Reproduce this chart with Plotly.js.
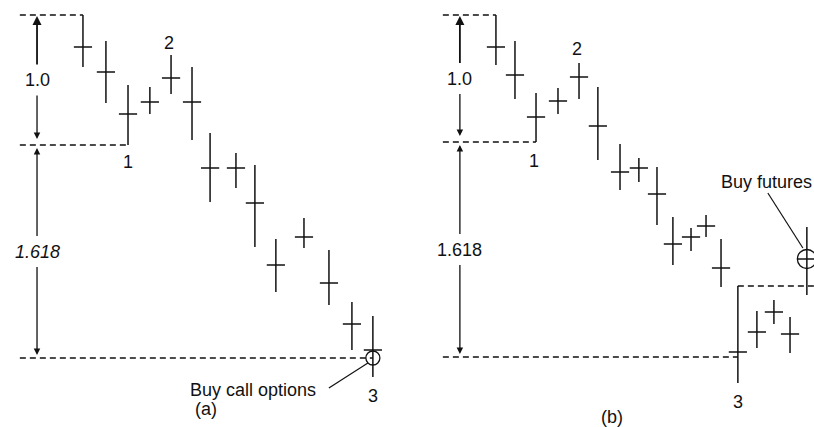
<!DOCTYPE html>
<html>
<head>
<meta charset="utf-8">
<script src="https://cdn.plot.ly/plotly-3.0.1.min.js"></script>
<style>
  html, body { margin: 0; padding: 0; background: #fff; }
  #chart { width: 814px; height: 427px; }
</style>
</head>
<body>
<div id="chart"></div>
<script>
// panel (a): bar positions (session units) and high / low / close
let a_x     = [1.00, 2.03, 3.02, 4.00, 4.95, 5.89, 6.70, 7.86, 8.71, 9.65, 10.91, 12.03, 13.06, 14.00];
let a_high  = [100.0, 97.4, 93.0, 92.8, 96.0, 94.8, 88.2, 86.2, 85.0, 77.6, 79.7, 76.5, 71.3, 69.9];
let a_low   = [94.8, 91.2, 87.0, 90.1, 92.1, 87.5, 81.3, 82.7, 76.8, 72.3, 76.7, 71.0, 66.5, 63.8];
let a_close = [96.8, 94.3, 90.1, 91.3, 93.7, 91.3, 84.7, 84.7, 81.2, 75.0, 77.8, 73.2, 69.1, 66.5];

// panel (b)
let b_x     = [1.00, 2.04, 3.19, 4.39, 5.54, 6.57, 7.78, 8.81, 9.80, 10.67, 11.66, 12.48, 13.30, 14.22, 15.26, 16.19, 17.07, 17.99];
let b_high  = [100.0, 97.4, 92.2, 92.7, 95.2, 92.8, 87.1, 85.7, 84.8, 79.8, 78.7, 80.0, 77.6, 72.9, 70.4, 71.5, 69.8, 78.8];
let b_low   = [95.0, 91.6, 87.3, 90.1, 91.6, 85.5, 82.5, 83.3, 79.0, 75.0, 76.4, 77.8, 72.8, 63.2, 66.7, 69.1, 66.2, 72.0];
let b_close = [96.8, 94.0, 89.8, 91.4, 93.8, 88.9, 84.3, 84.7, 82.1, 77.1, 77.8, 78.9, 74.7, 66.3, 68.3, 70.3, 68.1, 75.6];

// swing points: index of bar for points 1, 2, 3
let swing_idx_a = [2, 4, 13];
let swing_idx_b = [2, 4, 13];
let target_a = 65.7;   // 1.618 projection level
let target_b = 65.8;
let ratio_labels = ['1.0', '1.618'];

let black = '#111';
let font = {family: 'Liberation Sans, Arial, sans-serif', size: 18, color: black};

function barTrace(xs, hi, lo, cl, xaxis)
{
	return {
		type: 'scatter',
		mode: 'markers',
		x: xs,
		y: cl,
		xaxis: xaxis,
		yaxis: 'y',
		cliponaxis: false,
		hoverinfo: 'skip',
		marker: {symbol: 'line-ew-open', size: 13, color: black, line: {color: black, width: 1.5}},
		error_y: {
			type: 'data', symmetric: false,
			array: hi.map((h, i) => h - cl[i]),
			arrayminus: lo.map((l, i) => cl[i] - l),
			width: 0, thickness: 1.5, color: black
		}
	};
}

let traces = [
	barTrace(a_x, a_high, a_low, a_close, 'x'),
	barTrace(b_x, b_high, b_low, b_close, 'x2'),
	{
		type: 'scatter', mode: 'markers', xaxis: 'x', yaxis: 'y', cliponaxis: false, hoverinfo: 'skip',
		x: [a_x[swing_idx_a[2]]], y: [target_a],
		marker: {symbol: 'circle-open', size: 14, color: black, line: {color: black, width: 1.3}}
	},
	{
		type: 'scatter', mode: 'markers', xaxis: 'x2', yaxis: 'y', cliponaxis: false, hoverinfo: 'skip',
		x: [b_x[17]], y: [b_close[17]],
		marker: {symbol: 'circle-open', size: 19, color: black, line: {color: black, width: 1.3}}
	}
];

let xa_left = -1.83, xa_arrow = -1.06;
let xb_left = -1.90, xb_arrow = -0.97;
let dash = {color: black, width: 1.5, dash: '6px,4px'};

function hline(xref, x0, x1, y)
{
	return {type: 'line', xref: xref, yref: 'y', x0: x0, x1: x1, y0: y, y1: y, line: dash};
}

let shapes = [
	hline('x', xa_left, a_x[0], a_high[0]),
	hline('x', xa_left, a_x[swing_idx_a[0]], a_low[swing_idx_a[0]]),
	hline('x', xa_left, a_x[swing_idx_a[2]], target_a),
	hline('x2', xb_left, b_x[0], b_high[0]),
	hline('x2', xb_left, b_x[swing_idx_b[0]], b_low[swing_idx_b[0]]),
	hline('x2', xb_left, b_x[swing_idx_b[2]], target_b),
	hline('x2', b_x[swing_idx_b[2]], 18.4, b_high[swing_idx_b[2]]),
	// leader lines
	{type: 'line', xref: 'x', yref: 'y', xsizemode: 'pixel', ysizemode: 'pixel',
	 xanchor: a_x[13], yanchor: target_a, x0: -44, y0: -30, x1: -5, y1: -5,
	 line: {color: black, width: 1.2}},
	{type: 'line', xref: 'x2', yref: 'y', xsizemode: 'pixel', ysizemode: 'pixel',
	 xanchor: b_x[17], yanchor: b_close[17], x0: -39, y0: 66, x1: -4, y1: 11,
	 line: {color: black, width: 1.2}}
];

let annotations = [];

function addRatio(xref, x, top, lo1, target)
{
	let m1 = (top + lo1) / 2, m2 = (lo1 + target) / 2, gap = 1.4;
	let segs = [
		[top - 0.1, m1 + gap, 1.8],
		[lo1 + 0.6, m1 - gap, 1.3],
		[lo1 - 0.3, m2 + gap, 1.3],
		[target + 0.3, m2 - gap, 1.3]
	];
	segs.forEach(s => annotations.push({
		xref: xref, yref: 'y', axref: xref, ayref: 'y',
		x: x, y: s[0], ax: x, ay: s[1], text: '',
		showarrow: true, arrowhead: 2, arrowsize: 1, arrowwidth: s[2], arrowcolor: black
	}));
	annotations.push({xref: xref, yref: 'y', x: x, y: m1, text: ratio_labels[0], showarrow: false, font: font});
	annotations.push({xref: xref, yref: 'y', x: x, y: m2, text: xref == 'x' ? '<i>' + ratio_labels[1] + '</i>' : ratio_labels[1], showarrow: false, font: font});
}

addRatio('x', xa_arrow, a_high[0], a_low[swing_idx_a[0]], target_a);
addRatio('x2', xb_arrow, b_high[0], b_low[swing_idx_b[0]], target_b);

function label(xref, x, y, text, yanchor, yshift)
{
	annotations.push({xref: xref, yref: 'y', x: x, y: y, text: text, showarrow: false,
		font: font, yanchor: yanchor, yshift: yshift});
}

label('x', a_x[swing_idx_a[0]], a_low[swing_idx_a[0]], '1', 'top', -5);
label('x', a_x[swing_idx_a[1]] - 0.1, a_high[swing_idx_a[1]], '2', 'bottom', 0);
label('x', a_x[swing_idx_a[2]], a_low[swing_idx_a[2]], '3', 'top', -7);
label('x2', b_x[swing_idx_b[0]] - 0.1, b_low[swing_idx_b[0]], '1', 'top', -7);
label('x2', b_x[swing_idx_b[1]] - 0.1, b_high[swing_idx_b[1]], '2', 'bottom', 2);
label('x2', b_x[swing_idx_b[2]], b_low[swing_idx_b[2]], '3', 'top', -7);

annotations.push({xref: 'x', yref: 'y', x: a_x[13], y: target_a, text: 'Buy call options',
	showarrow: false, font: font, xanchor: 'right', xshift: -55, yshift: -32});
annotations.push({xref: 'x2', yref: 'y', x: b_x[17], y: b_close[17], text: 'Buy futures',
	showarrow: false, font: font, xanchor: 'right', xshift: 7, yshift: 77});
annotations.push({xref: 'paper', yref: 'paper', x: 0.237, y: 0.042, yanchor: 'middle', text: '(a)', showarrow: false, font: font});
annotations.push({xref: 'paper', yref: 'paper', x: 0.768, y: 0.023, yanchor: 'middle', text: '(b)', showarrow: false, font: font});

let hidden = {visible: false, showgrid: false, zeroline: false, fixedrange: true};

let layout =
{
	width: 814,
	height: 427,
	showlegend: false,
	paper_bgcolor: '#fff',
	plot_bgcolor: '#fff',
	margin: {l: 0, r: 0, t: 0, b: 0, pad: 0},
	xaxis: Object.assign({domain: [0, 0.5], range: [-2.72, 15.53], anchor: 'y'}, hidden),
	xaxis2: Object.assign({domain: [0.5, 1], range: [-3.86, 18.38], anchor: 'y'}, hidden),
	yaxis: Object.assign({range: [58.8, 101.5], anchor: 'x'}, hidden),
	shapes: shapes,
	annotations: annotations
};

Plotly.newPlot('chart', traces, layout, {staticPlot: true, displayModeBar: false});
</script>
</body>
</html>
